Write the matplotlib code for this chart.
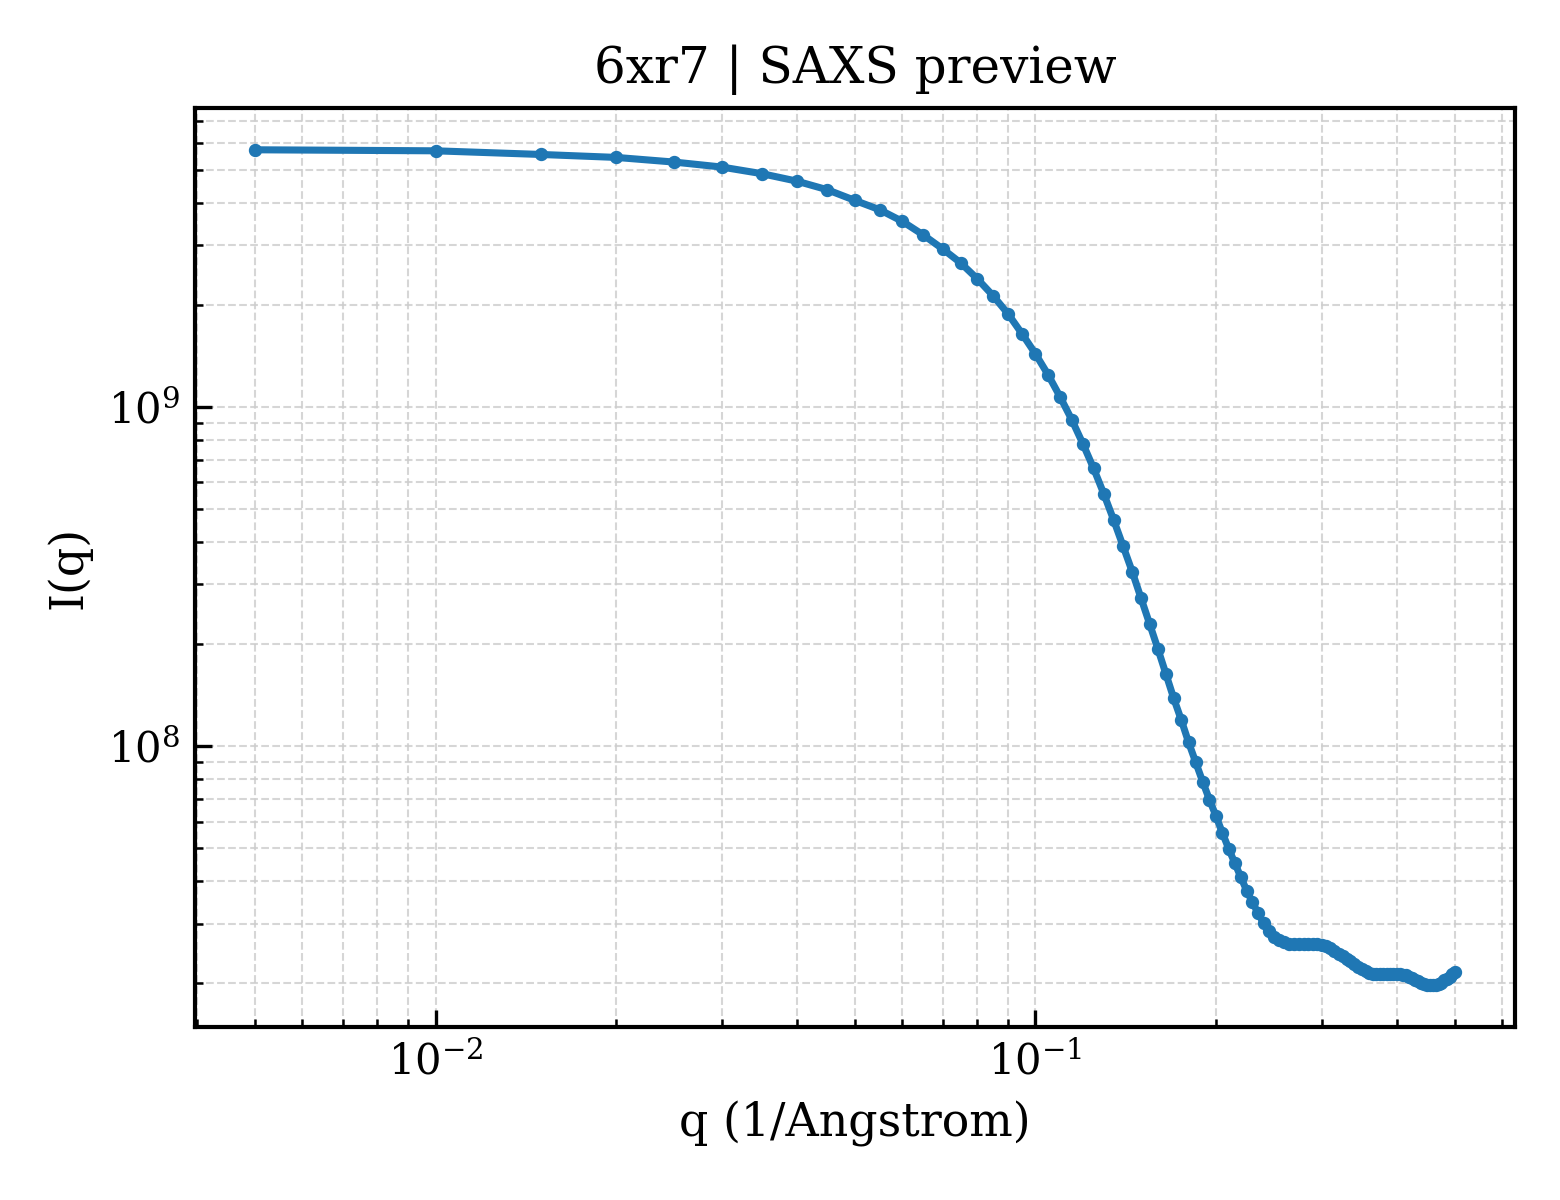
import matplotlib
import matplotlib.pyplot as plt
import numpy as np

matplotlib.use("Agg")

plt.rcParams["font.family"] = "DejaVu Serif"
plt.rcParams["mathtext.fontset"] = "dejavuserif"

# q grid of the preview (1/Angstrom)
q = [
    0.005, 0.010, 0.015, 0.020, 0.025, 0.030, 0.035, 0.040, 0.045, 0.050,
    0.055, 0.060, 0.065, 0.070, 0.075, 0.080, 0.085, 0.090, 0.095, 0.100,
    0.105, 0.110, 0.115, 0.120, 0.125, 0.130, 0.135, 0.140, 0.145, 0.150,
    0.155, 0.160, 0.165, 0.170, 0.175, 0.180, 0.185, 0.190, 0.195, 0.200,
    0.205, 0.210, 0.215, 0.220, 0.225, 0.230, 0.235, 0.240, 0.245, 0.250,
    0.255, 0.260, 0.265, 0.270, 0.275, 0.280, 0.285, 0.290, 0.295, 0.300,
    0.305, 0.310, 0.315, 0.320, 0.325, 0.330, 0.335, 0.340, 0.345, 0.350,
    0.355, 0.360, 0.365, 0.370, 0.375, 0.380, 0.385, 0.390, 0.395, 0.400,
    0.405, 0.410, 0.415, 0.420, 0.425, 0.430, 0.435, 0.440, 0.445, 0.450,
    0.455, 0.460, 0.465, 0.470, 0.475, 0.480, 0.485, 0.490, 0.495, 0.500,
]

# intensity
intensity = [
    5.74e9, 5.70e9, 5.56e9, 5.45e9, 5.28e9, 5.105e9, 4.88e9, 4.64e9, 4.375e9, 4.07e9,
    3.82e9, 3.53e9, 3.22e9, 2.93e9, 2.665e9, 2.39e9, 2.13e9, 1.885e9, 1.645e9, 1.436e9,
    1.245e9, 1.07e9, 9.17e8, 7.79e8, 6.6e8, 5.55e8, 4.65e8, 3.89e8, 3.27e8, 2.73e8,
    2.295e8, 1.936e8, 1.634e8, 1.385e8, 1.196e8, 1.027e8, 8.97e7, 7.86e7, 6.96e7, 6.22e7,
    5.55e7, 4.98e7, 4.52e7, 4.11e7, 3.75e7, 3.47e7, 3.22e7, 3.01e7, 2.86e7, 2.745e7,
    2.685e7, 2.64e7, 2.61e7, 2.61e7, 2.61e7, 2.61e7, 2.61e7, 2.61e7, 2.61e7, 2.60e7,
    2.575e7, 2.54e7, 2.49e7, 2.44e7, 2.40e7, 2.36e7, 2.32e7, 2.28e7, 2.24e7, 2.205e7,
    2.175e7, 2.15e7, 2.137e7, 2.13e7, 2.13e7, 2.13e7, 2.13e7, 2.13e7, 2.13e7, 2.13e7,
    2.13e7, 2.12e7, 2.11e7, 2.095e7, 2.075e7, 2.05e7, 2.03e7, 2.01e7, 1.997e7, 1.983e7,
    1.976e7, 1.972e7, 1.976e7, 1.99e7, 2.01e7, 2.04e7, 2.065e7, 2.095e7, 2.13e7, 2.163e7,
]

fig, ax = plt.subplots(figsize=(5.2, 4.0), dpi=300)
fig.subplots_adjust(left=0.125, right=0.971, top=0.91, bottom=0.144)

ax.plot(q, intensity, marker="o", markersize=2.2, linewidth=1.7, color="tab:blue")

ax.set_xscale("log")
ax.set_yscale("log")

ax.set_title("6xr7 | SAXS preview", fontsize=12)
ax.set_xlabel("q (1/Angstrom)", fontsize=11)
ax.set_ylabel("I(q)", fontsize=11)

ax.grid(True, which="both", linestyle="--", linewidth=0.5, color="#cccccc", alpha=0.8)
ax.tick_params(which="both", direction="in", labelsize=10)
ax.tick_params(which="major", length=4)
ax.tick_params(which="minor", length=2)
for s in ax.spines.values():
    s.set_linewidth(1.0)

plt.savefig("out.png", dpi=300)
